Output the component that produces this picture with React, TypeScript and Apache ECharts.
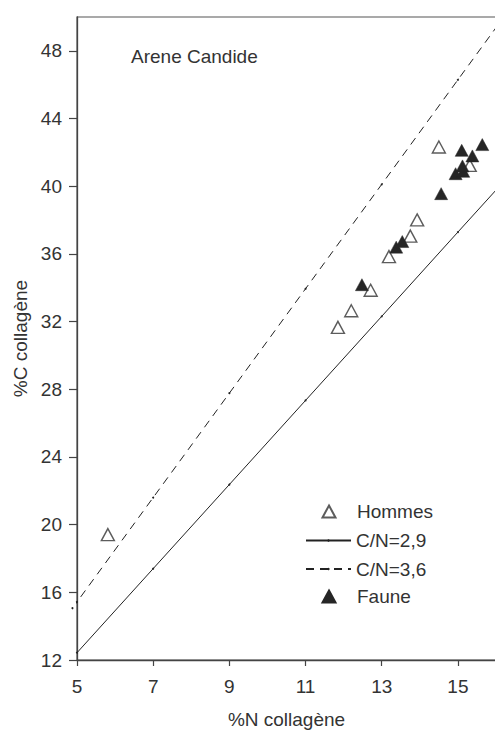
import React, { useEffect, useRef } from "react";
import * as echarts from "echarts";

const hommesN = [5.81, 11.85, 12.2, 12.71, 13.19, 13.75, 13.93, 14.5, 15.31];
const hommesC = [19.41, 31.66, 32.64, 33.85, 35.84, 37.05, 38.01, 42.32, 41.23];

const fauneN = [12.48, 13.38, 13.54, 14.56, 14.94, 15.14, 15.12, 15.38, 15.1, 15.64];
const fauneC = [34.18, 36.4, 36.73, 39.56, 40.74, 40.88, 41.2, 41.79, 42.12, 42.46];

const line29N = [5, 7, 9, 11, 13, 15, 16];
const line29C = [12.43, 17.4, 22.37, 27.34, 32.31, 37.29, 39.77];

const line36N = [4.88, 5, 7, 9, 11, 13, 15, 16];
const line36C = [15.06, 15.43, 21.6, 27.77, 33.94, 40.11, 46.29, 49.37];

const xTicks = [5, 7, 9, 11, 13, 15];
const yTicks = [12, 16, 20, 24, 28, 32, 36, 40, 44, 48];

const FONT = "Liberation Sans, Arial, Helvetica, sans-serif";
const TXT = "#333";
const AX = "#444";
const DARK = "#262626";

const zip = (a: number[], b: number[]) => a.map((v, i) => [v, b[i]]);

const legendText = (padLeft: number) => ({
  fontFamily: FONT,
  fontSize: 19,
  color: TXT,
  lineHeight: 19,
  padding: [0, 0, 0, padLeft],
});

export default function App() {
  const ref = useRef<HTMLDivElement>(null);
  useEffect(() => {
    if (!ref.current) return;
    const chart = echarts.init(ref.current, null, { renderer: "svg" });
    chart.setOption({
      animation: false,
      backgroundColor: "#fff",
      textStyle: { fontFamily: FONT },
      title: {
        text: "Arene Candide",
        left: 131,
        top: 47,
        padding: 0,
        textStyle: { fontFamily: FONT, fontSize: 19, fontWeight: "normal", color: TXT },
      },
      grid: {
        left: 77,
        right: -1,
        top: 17,
        bottom: 71,
        containLabel: false,
        outerBoundsMode: "none",
        show: true,
        borderColor: "#555",
        borderWidth: 1.2,
        backgroundColor: "transparent",
      },
      legend: [
        {
          orient: "vertical",
          left: 321.5,
          top: 502,
          padding: 0,
          itemWidth: 13,
          itemHeight: 12,
          textStyle: legendText(16.5),
          data: [{ name: "Hommes", icon: "triangle" }],
        },
        {
          orient: "vertical",
          left: 305,
          top: 531,
          padding: 0,
          itemWidth: 45,
          itemHeight: 3,
          textStyle: legendText(0),
          data: ["C/N=2,9"],
        },
        {
          orient: "vertical",
          left: 305,
          top: 559.5,
          padding: 0,
          itemWidth: 45,
          itemHeight: 3,
          textStyle: legendText(0),
          data: ["C/N=3,6"],
        },
        {
          orient: "vertical",
          left: 321.5,
          top: 587,
          padding: 0,
          itemWidth: 13,
          itemHeight: 12,
          textStyle: legendText(16.5),
          data: [{ name: "Faune", icon: "triangle" }],
        },
      ],
      xAxis: {
        type: "value",
        min: 5,
        max: 16,
        interval: 2,
        name: "%N collagène",
        nameLocation: "middle",
        nameGap: 50,
        nameTextStyle: { fontFamily: FONT, fontSize: 19, color: TXT },
        splitLine: { show: false },
        axisLine: { lineStyle: { color: AX, width: 1.3 } },
        axisTick: { length: 6, lineStyle: { color: AX, width: 1.2 }, customValues: xTicks },
        axisLabel: {
          customValues: xTicks,
          margin: 17,
          fontFamily: FONT,
          fontSize: 19,
          color: TXT,
        },
      },
      yAxis: {
        type: "value",
        min: 12,
        max: 50,
        interval: 4,
        name: "%C collagène",
        nameLocation: "middle",
        nameGap: 46,
        nameTextStyle: { fontFamily: FONT, fontSize: 19, color: TXT },
        splitLine: { show: false },
        axisLine: { lineStyle: { color: AX, width: 1.3 } },
        axisTick: { length: 8, lineStyle: { color: AX, width: 1.2 }, customValues: yTicks },
        axisLabel: {
          customValues: yTicks,
          margin: 15,
          fontFamily: FONT,
          fontSize: 19,
          color: TXT,
        },
      },
      series: [
        {
          name: "C/N=2,9",
          type: "line",
          data: zip(line29N, line29C),
          symbol: "circle",
          symbolSize: 2,
          showSymbol: true,
          itemStyle: { color: "#222" },
          lineStyle: { color: "#222", width: 1 },
          z: 2,
        },
        {
          name: "C/N=3,6",
          type: "line",
          data: zip(line36N, line36C),
          clip: false,
          symbol: "circle",
          symbolSize: 2,
          showSymbol: true,
          itemStyle: { color: "#222" },
          lineStyle: { color: "#222", width: 1, type: [8, 6] },
          z: 2,
        },
        {
          name: "Hommes",
          type: "scatter",
          data: zip(hommesN, hommesC),
          symbol: "triangle",
          symbolSize: [13, 12],
          itemStyle: { color: "#fff", borderColor: "#333", borderWidth: 1.4 },
          z: 3,
        },
        {
          name: "Faune",
          type: "scatter",
          data: zip(fauneN, fauneC),
          symbol: "triangle",
          symbolSize: [13, 12],
          itemStyle: { color: DARK, borderColor: DARK, borderWidth: 0.5, opacity: 1 },
          z: 4,
        },
      ],
    });
    return () => chart.dispose();
  }, []);
  return (
    <div
      ref={ref}
      style={{ position: "absolute", left: 0, top: 0, width: 495, height: 731, background: "#fff" }}
    />
  );
}
